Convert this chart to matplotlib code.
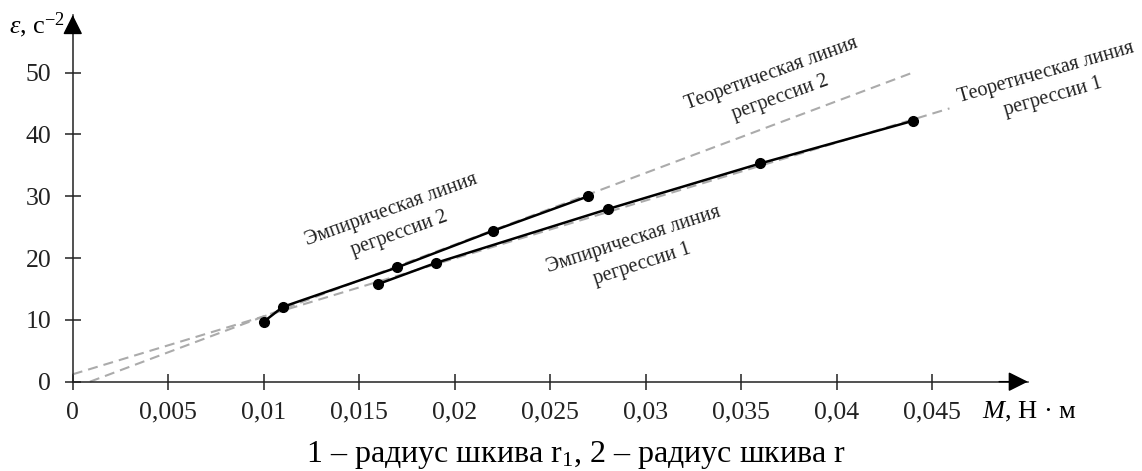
import numpy as np
import matplotlib.pyplot as plt

plt.rcParams['font.family'] = ['Liberation Serif', 'DejaVu Serif']
plt.rcParams['mathtext.fontset'] = 'custom'
plt.rcParams['mathtext.rm'] = 'Liberation Serif'
plt.rcParams['mathtext.it'] = 'Liberation Serif:italic'

m1 = [0.016, 0.019, 0.028, 0.036, 0.044]
eps1 = [15.8, 19.2, 27.9, 35.3, 42.2]
m2 = [0.010, 0.011, 0.017, 0.022, 0.027]
eps2 = [9.7, 12.1, 18.5, 24.4, 30.0]

# theoretical lines (end points)
theo1_m = [0.0, 0.0459]
theo1_eps = [1.2, 44.2]
theo2_m = [0.0009, 0.0439]
theo2_eps = [0.0, 49.9]

xticks = [0, 0.005, 0.01, 0.015, 0.02, 0.025, 0.03, 0.035, 0.04, 0.045]
xlabels = ['0', '0,005', '0,01', '0,015', '0,02', '0,025', '0,03', '0,035', '0,04', '0,045']
yticks = [0, 10, 20, 30, 40, 50]

fig = plt.figure(figsize=(11.42, 4.71), dpi=100)
ax = fig.add_axes([0.0637, 0.1896, 0.8363, 0.7785])

dash_col = '#ababab'
ax.plot(theo1_m, theo1_eps, color=dash_col, lw=1.5, dashes=(4.8, 2.9), clip_on=False)
ax.plot(theo2_m, theo2_eps, color=dash_col, lw=1.5, dashes=(4.8, 2.9), clip_on=False)
ax.plot(m1, eps1, color='black', lw=1.8, marker='o', ms=7, clip_on=False)
ax.plot(m2, eps2, color='black', lw=1.8, marker='o', ms=7, clip_on=False)

ax.set_xlim(0, 0.05)
ax.set_ylim(0, 59.3)
for s in ['top', 'right']:
    ax.spines[s].set_visible(False)
for s in ['left', 'bottom']:
    ax.spines[s].set_linewidth(1.1)
    ax.spines[s].set_color('#222222')

ax.set_xticks(xticks)
ax.set_xticklabels(xlabels)
ax.set_yticks(yticks)
ax.tick_params(direction='inout', length=11, width=1.1, color='#222222',
               labelsize=18.5, labelcolor='#222222')
ax.tick_params(axis='x', pad=9)
ax.tick_params(axis='y', pad=10)

# axis arrows
arrow = dict(arrowstyle='-|>,head_length=0.6,head_width=0.3', color='black',
             lw=1.1, mutation_scale=20, shrinkA=0, shrinkB=0)
ax.annotate('', xy=(1, 0), xytext=(0.97, 0), xycoords='axes fraction', arrowprops=arrow)
ax.annotate('', xy=(0, 1), xytext=(0, 0.95), xycoords='axes fraction', arrowprops=arrow)

ax.text(-0.0004, 57.7, r'$\varepsilon$, с$^{-2}$', ha='right', va='center',
        fontsize=19, clip_on=False)
ax.text(0.05006, -4.9, r'$M$, Н · м', ha='center', va='center', fontsize=19, clip_on=False)

tkw = dict(ha='center', va='center', fontsize=14.5, rotation_mode='anchor',
           multialignment='center', linespacing=1.45, clip_on=False, color='#222222')
ax.text(0.01688, 25.8, 'Эмпирическая линия\nрегрессии 2', rotation=20, **tkw)
ax.text(0.02959, 21.0, 'Эмпирическая линия\nрегрессии 1', rotation=18, **tkw)
ax.text(0.03682, 47.8, 'Теоретическая линия\nрегрессии 2', rotation=20, **tkw)
ax.text(0.05116, 48.0, 'Теоретическая линия\nрегрессии 1', rotation=16, **tkw)

fig.text(0.504, 0.034, '1 – радиус шкива r$_1$, 2 – радиус шкива r',
         ha='center', va='center', fontsize=23)

plt.savefig('out.png', dpi=100)
